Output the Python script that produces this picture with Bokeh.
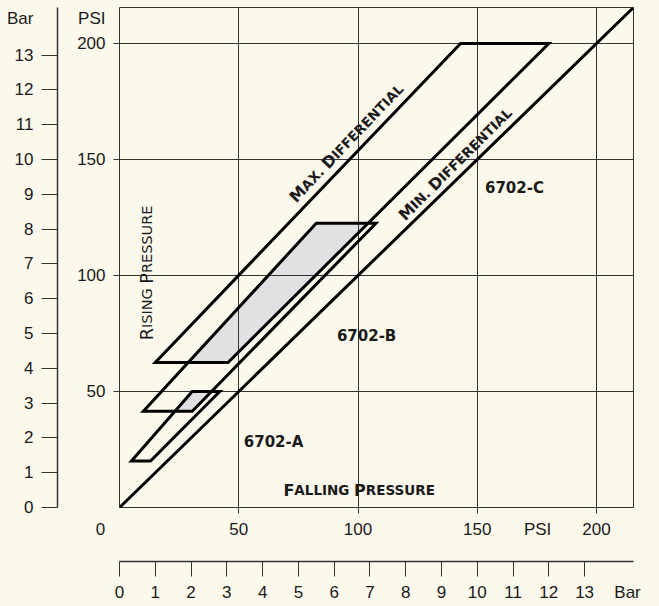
import math
from bokeh.plotting import figure
from bokeh.models import Range1d, LinearAxis, FixedTicker, Slope, ColumnDataSource
from bokeh.embed import file_html
from bokeh.resources import INLINE
from bokeh.core.properties import value

# ---------------- data (all in PSI) ----------------
PSI_MAX = 215.5
PSI_PER_BAR = 15.0          # bar scales as drawn on the chart
psi_ticks = [50, 100, 150, 200]
bar_ticks = list(range(0, 14))

# operating bands: x = falling pressure, y = rising pressure
band_A_x = [5.0, 13.0, 42.0, 30.5]
band_A_y = [20.0, 20.0, 50.0, 50.0]
band_B_x = [10.0, 30.5, 107.5, 82.5]
band_B_y = [41.5, 41.5, 122.5, 122.5]
band_C_x = [15.0, 45.5, 180.0, 143.0]
band_C_y = [62.5, 62.5, 200.0, 200.0]

model_names = ["6702-A", "6702-B", "6702-C"]
model_x = [64.6, 103.6, 165.6]
model_y = [28.4, 74.1, 137.5]

# unit captions placed in the tick-label rows
psi_caption_y = 210.8      # "PSI" above the left PSI scale
psi_caption_x = 175.3      # "PSI" on the bottom PSI scale
bar_caption_y = 14.05      # "Bar" above the left Bar scale
bar_caption_x = 14.2       # "Bar" at the end of the bottom Bar scale

# ---------------- style ----------------
BG = "#FCF8EC"
INK = "#1a1a1a"
GRID = "#333333"
FW, FH = 514, 500
PX_X = FW / PSI_MAX
PX_Y = FH / PSI_MAX

p = figure(frame_width=FW, frame_height=FH,
           x_range=Range1d(0, PSI_MAX), y_range=Range1d(0, PSI_MAX),
           output_backend="svg", toolbar_location=None,
           background_fill_color=BG, border_fill_color=BG,
           min_border_left=119, min_border_right=14,
           min_border_top=7, min_border_bottom=0)
p.outline_line_color = GRID
p.outline_line_width = 1

p.extra_x_ranges = {"bar": Range1d(0, PSI_MAX / PSI_PER_BAR)}
p.extra_y_ranges = {"bar": Range1d(0, PSI_MAX / PSI_PER_BAR)}

for g in (p.xgrid[0], p.ygrid[0]):
    g.ticker = FixedTicker(ticks=psi_ticks)
    g.grid_line_color = GRID
    g.grid_line_width = 1


def marks_axis(ax, ticks, tick_out, line):
    """axis that draws only its line and (minor-style) tick marks, no labels"""
    ax.ticker = FixedTicker(ticks=[], minor_ticks=ticks)
    ax.major_tick_out = tick_out
    ax.major_tick_in = 0
    ax.minor_tick_out = tick_out
    ax.minor_tick_in = 0
    ax.major_tick_line_color = GRID
    ax.minor_tick_line_color = GRID
    ax.minor_tick_line_width = 1
    ax.axis_line_color = GRID if line else None
    ax.axis_line_width = 1.5
    ax.major_label_standoff = 0
    return ax


def label_axis(ax, ticks, standoff, overrides):
    """axis that draws only tick labels"""
    ax.ticker = FixedTicker(ticks=ticks)
    ax.major_tick_out = 0
    ax.major_tick_in = 0
    ax.minor_tick_out = 0
    ax.minor_tick_in = 0
    ax.major_tick_line_color = None
    ax.minor_tick_line_color = None
    ax.axis_line_color = None
    ax.major_label_standoff = standoff
    ax.major_label_text_font = "Liberation Sans"
    ax.major_label_text_font_size = "17px"
    ax.major_label_text_color = INK
    ax.major_label_overrides = overrides
    return ax


# left side, from the frame outwards
marks_axis(p.yaxis[0], psi_ticks, 6, False)
p.add_layout(label_axis(LinearAxis(), psi_ticks + [psi_caption_y], 8,
                        {200: "\u2003200", psi_caption_y: "PSI"}), "left")
p.add_layout(marks_axis(LinearAxis(y_range_name="bar"), bar_ticks, 16, True), "left")
p.add_layout(label_axis(LinearAxis(y_range_name="bar"), bar_ticks + [bar_caption_y], 8,
                        {bar_caption_y: "Bar"}), "left")

# bottom side, from the frame outwards
marks_axis(p.xaxis[0], psi_ticks, 6, False)
psi_lab_x = label_axis(LinearAxis(), [0] + psi_ticks + [psi_caption_x], 6,
                       {0: "0\u2003\u2003\u2005", psi_caption_x: "PSI"})
psi_lab_x.axis_label = "\u00a0"
psi_lab_x.axis_label_standoff = 0
psi_lab_x.axis_label_text_font_size = "15px"
p.add_layout(psi_lab_x, "below")
p.add_layout(marks_axis(LinearAxis(x_range_name="bar"), bar_ticks, 15, True), "below")
p.add_layout(label_axis(LinearAxis(x_range_name="bar"), bar_ticks + [bar_caption_x], 6,
                        {bar_caption_x: "Bar"}), "below")


# ---------------- overlap shading ----------------
def clip(subject, clipper):
    out = list(subject)
    n = len(clipper)
    for i in range(n):
        a = clipper[i]
        b = clipper[(i + 1) % n]
        inp, out = out, []
        if not inp:
            break

        def inside(q):
            return (b[0] - a[0]) * (q[1] - a[1]) - (b[1] - a[1]) * (q[0] - a[0]) >= 0

        def inter(p1, p2):
            x1, y1 = p1
            x2, y2 = p2
            x3, y3 = a
            x4, y4 = b
            den = (x1 - x2) * (y3 - y4) - (y1 - y2) * (x3 - x4)
            t = ((x1 - x3) * (y3 - y4) - (y1 - y3) * (x3 - x4)) / den
            return (x1 + t * (x2 - x1), y1 + t * (y2 - y1))

        s = inp[-1]
        for e in inp:
            if inside(e):
                if not inside(s):
                    out.append(inter(s, e))
                out.append(e)
            elif inside(s):
                out.append(inter(s, e))
            s = e
    return out


A = list(zip(band_A_x, band_A_y))
B = list(zip(band_B_x, band_B_y))
C = list(zip(band_C_x, band_C_y))
ov = [clip(A, B), clip(B, C)]
shade = p.patches(xs=[[q[0] for q in o] for o in ov], ys=[[q[1] for q in o] for o in ov],
                  fill_color="#E1E1E1", line_color=None)
shade.level = "underlay"

p.patches(xs=[band_A_x, band_B_x, band_C_x], ys=[band_A_y, band_B_y, band_C_y],
          fill_color=None, line_color="black", line_width=3, line_join="miter")
p.add_layout(Slope(gradient=1, y_intercept=0, line_color="black", line_width=3))

p.text(x=model_x, y=model_y, text=model_names, text_font=value("DejaVu Sans"),
       text_font_style="bold", text_font_size="15px", text_color=INK,
       text_align="center", text_baseline="middle")

# ---------------- small-caps labels ----------------
W_BOLD = {"A": 1585, "D": 1700, "E": 1399, "F": 1399, "G": 1682, "I": 763, "L": 1305,
          "M": 2036, "N": 1714, "P": 1501, "R": 1577, "S": 1475, "T": 1397, "U": 1663,
          "X": 1585, " ": 713, ".": 780}
W_REG = {"E": 1294, "G": 1587, "I": 604, "N": 1532, "P": 1235, "R": 1423, "S": 1300,
         "U": 1499, " ": 651}


def smallcaps(txt, cx, cy, ang, big, small, bold):
    table = W_BOLD if bold else W_REG
    pieces = []
    for k, word in enumerate(txt.split(" ")):
        if k:
            pieces.append((" ", small))
        pieces.append((word[0].upper(), big))
        pieces.append((word[1:].upper(), small))
    widths = [sum(table[c] for c in s) / 2048.0 * sz for s, sz in pieces]
    total = sum(widths)
    ca, sa = math.cos(math.radians(ang)), math.sin(math.radians(ang))
    xs, ys, ts, ss = [], [], [], []
    d = -total / 2
    for (s, sz), w in zip(pieces, widths):
        if s.strip():
            xs.append(cx + d * ca / PX_X)
            ys.append(cy + d * sa / PX_Y)
            ts.append(s)
            ss.append("%.1fpx" % sz)
        d += w
    src = ColumnDataSource(dict(x=xs, y=ys, t=ts, size=ss))
    p.text(x="x", y="y", text="t", text_font_size="size", source=src,
           text_font=value("DejaVu Sans"), text_font_style="bold" if bold else "normal",
           text_color=INK, angle=ang, angle_units="deg",
           text_align="left", text_baseline="middle")


smallcaps("Max. Differential", 95.2, 157.1, 46.3, 16, 13.5, True)
smallcaps("Min. Differential", 140.8, 148.1, 44.8, 16, 13.5, True)
smallcaps("Falling Pressure", 100.6, 7.5, 0, 16, 13.5, True)
smallcaps("Rising Pressure", 11.5, 101.1, 90, 17.5, 14.5, False)

html = file_html(p, INLINE)
html = html.replace("</head>", "<style>body{background:%s;}</style></head>" % BG, 1)
open("out.html", "w").write(html)
